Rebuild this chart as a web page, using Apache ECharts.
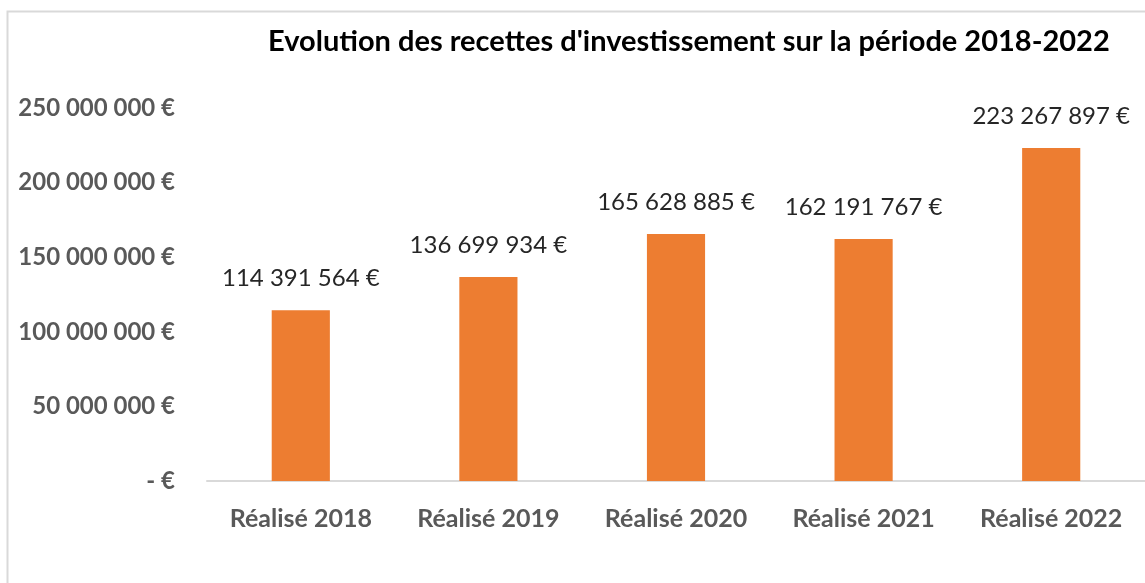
<!DOCTYPE html>
<html>
<head>
<meta charset="utf-8">
<script src="https://cdn.jsdelivr.net/npm/echarts@6/dist/echarts.min.js"></script>
<style>
  html, body { margin: 0; padding: 0; background: #fff; }
  #main { width: 1145px; height: 583px; }
</style>
</head>
<body>
<div id="main"></div>
<script>
const categories = ["Réalisé 2018", "Réalisé 2019", "Réalisé 2020", "Réalisé 2021", "Réalisé 2022"];
const recettes = [114391564, 136699934, 165628885, 162191767, 223267897];

// format "114 391 564 €", zero as "- €"
function euro(v) {
  if (v === 0) return "- €";
  return String(Math.round(v)).replace(/\B(?=(\d{3})+(?!\d))/g, " ") + " €";
}

const FONT = "Lato";
let myChart = echarts.init(document.getElementById("main"));
myChart.setOption({
  backgroundColor: "#fff",
  animation: false,
  textStyle: { fontFamily: FONT },
  title: {
    text: "Evolution des recettes d'investissement sur la période 2018-2022",
    left: 263,
    top: 22,
    textStyle: { fontFamily: FONT, fontSize: 29, fontWeight: "bold", color: "#000" },
  },
  // cadre du graphique
  graphic: [
    {
      type: "rect",
      shape: { x: 7.5, y: 11.5, width: 1200, height: 700 },
      style: { fill: "none", stroke: "#d9d9d9", lineWidth: 2 },
    },
  ],
  grid: { left: 207, right: -14, top: 108, bottom: 102 },
  xAxis: {
    type: "category",
    data: categories,
    axisLine: { lineStyle: { color: "#d9d9d9", width: 2 } },
    axisTick: { show: false },
    axisLabel: { color: "#595959", fontWeight: "bold", fontSize: 25, margin: 25, fontFamily: FONT },
  },
  yAxis: {
    type: "value",
    min: 0,
    max: 250000000,
    interval: 50000000,
    splitLine: { show: false },
    axisLabel: {
      color: "#595959",
      fontWeight: "bold",
      fontSize: 24,
      margin: 32,
      fontFamily: FONT,
      formatter: euro,
    },
  },
  series: [
    {
      type: "bar",
      data: recettes,
      barWidth: "31%",
      itemStyle: { color: "#ED7D31" },
      label: {
        show: true,
        position: "top",
        distance: 20,
        color: "#262626",
        fontSize: 24,
        fontFamily: FONT,
        formatter: (p) => euro(p.value),
      },
    },
  ],
});
</script>
</body>
</html>
